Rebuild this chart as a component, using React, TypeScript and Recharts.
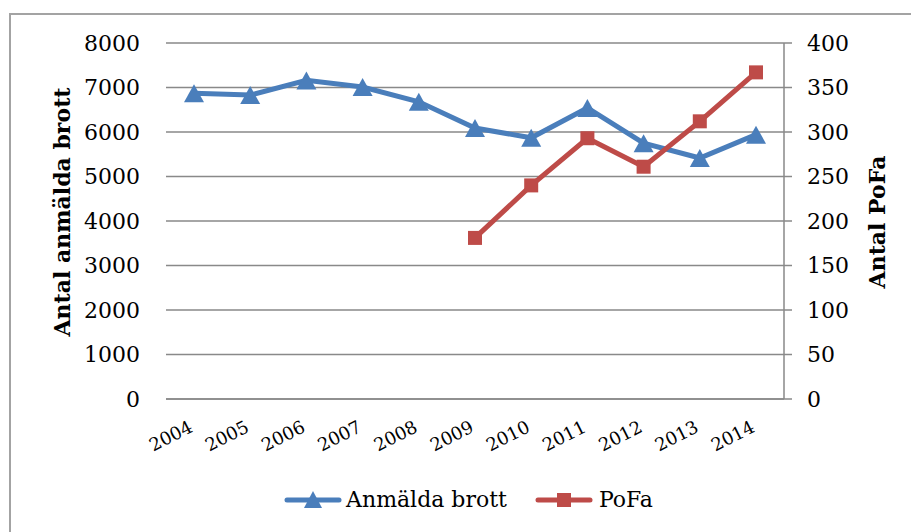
import React from 'react';
import { LineChart, Line, XAxis, YAxis, CartesianGrid, Legend } from 'recharts';

const years = ['2004', '2005', '2006', '2007', '2008', '2009', '2010', '2011', '2012', '2013', '2014'];
const anmaldaBrott = [6870, 6830, 7160, 7010, 6680, 6090, 5870, 6540, 5750, 5415, 5940];
const pofaValues: (number | null)[] = [null, null, null, null, null, 181, 240, 293, 261, 312, 367];
const leftTicks = [0, 1000, 2000, 3000, 4000, 5000, 6000, 7000, 8000];
const rightTicks = [0, 50, 100, 150, 200, 250, 300, 350, 400];

const data = years.map((y, i) => ({ year: y, anmalda: anmaldaBrott[i], pofa: pofaValues[i] }));

const FONT = "'DejaVu Serif', serif";
const BLUE = '#4A7EBB';
const RED = '#BE4B48';
const GRID = '#898989';

const TriangleDot = (props: any) => {
  const { cx, cy, index } = props;
  if (cx == null || cy == null || isNaN(cy)) return <g key={`t${index}`} />;
  const w = 20, h = 18;
  return (
    <polygon
      key={`t${index}`}
      points={`${cx},${cy - h / 2} ${cx + w / 2},${cy + h / 2} ${cx - w / 2},${cy + h / 2}`}
      fill={BLUE}
    />
  );
};

const SquareDot = (props: any) => {
  const { cx, cy, index } = props;
  if (cx == null || cy == null || isNaN(cy)) return <g key={`s${index}`} />;
  const s = 14;
  return <rect key={`s${index}`} x={cx - s / 2} y={cy - s / 2} width={s} height={s} fill={RED} />;
};

const XTick = (props: any) => {
  const { x, y, payload } = props;
  const ax = x;
  const ay = y + 32;
  return (
    <text
      x={ax}
      y={ay}
      transform={`rotate(-27, ${ax}, ${ay})`}
      textAnchor="end"
      fontFamily={FONT}
      fontSize={18}
      fill="#000"
    >
      {payload.value}
    </text>
  );
};

const LeftTitle = (props: any) => {
  const vb = props.viewBox || {};
  const x = 62;
  const y = (vb.y ?? 43) + (vb.height ?? 356) / 2 - 9;
  return (
    <text
      x={x}
      y={y}
      transform={`rotate(-90, ${x}, ${y})`}
      textAnchor="middle"
      dominantBaseline="central"
      fontFamily={FONT}
      fontWeight="bold"
      fontSize={22}
      fill="#000"
    >
      Antal anmälda brott
    </text>
  );
};

const RightTitle = (props: any) => {
  const vb = props.viewBox || {};
  const x = 877;
  const y = (vb.y ?? 43) + (vb.height ?? 356) / 2 + 1;
  return (
    <text
      x={x}
      y={y}
      transform={`rotate(-90, ${x}, ${y})`}
      textAnchor="middle"
      dominantBaseline="central"
      fontFamily={FONT}
      fontWeight="bold"
      fontSize={22}
      fill="#000"
    >
      Antal PoFa
    </text>
  );
};

const LegendContent = () => (
  <div
    style={{
      display: 'flex',
      justifyContent: 'center',
      alignItems: 'center',
      fontFamily: FONT,
      fontSize: 22,
      color: '#000',
      paddingLeft: 26,
    }}
  >
    <svg width={58} height={22} style={{ display: 'block' }}>
      <line x1={3} y1={11} x2={55} y2={11} stroke={BLUE} strokeWidth={5} strokeLinecap="round" />
      <polygon points="29,2 38,19 20,19" fill={BLUE} />
    </svg>
    <span style={{ marginLeft: 4 }}>Anmälda brott</span>
    <svg width={58} height={22} style={{ display: 'block', marginLeft: 28 }}>
      <line x1={3} y1={11} x2={55} y2={11} stroke={RED} strokeWidth={5} strokeLinecap="round" />
      <rect x={22} y={4} width={14} height={14} fill={RED} />
    </svg>
    <span style={{ marginLeft: 6 }}>PoFa</span>
  </div>
);

export default function App() {
  return (
    <div style={{ position: 'absolute', left: 0, top: 0, width: 911, height: 532, overflow: 'hidden', background: '#fff' }}>
      <div
        style={{
          position: 'absolute',
          left: 9,
          top: 13,
          width: 940,
          height: 560,
          border: '2px solid #a3a3a3',
          boxSizing: 'border-box',
        }}
      />
      <div style={{ position: 'absolute', left: 0, top: 0 }}>
        <LineChart width={911} height={532} data={data} margin={{ top: 43, right: 27, left: 0, bottom: 73 }}>
          <CartesianGrid yAxisId="left" vertical={false} stroke={GRID} strokeWidth={1.5} />
          <XAxis
            dataKey="year"
            height={60}
            padding={{ left: 28, right: 28 }}
            axisLine={{ stroke: GRID, strokeWidth: 1.5 }}
            tickLine={false}
            tickSize={0}
            tickMargin={0}
            interval={0}
            tick={<XTick />}
          />
          <YAxis
            yAxisId="left"
            orientation="left"
            width={166}
            domain={[0, 8000]}
            ticks={leftTicks}
            axisLine={false}
            tickLine={false}
            tickSize={8}
            tickMargin={18}
            tick={{ fontFamily: FONT, fontSize: 22, fill: '#000' }}
            label={<LeftTitle />}
          />
          <YAxis
            yAxisId="right"
            orientation="right"
            width={100}
            domain={[0, 400]}
            ticks={rightTicks}
            axisLine={{ stroke: GRID, strokeWidth: 1.5 }}
            tickLine={{ stroke: GRID, strokeWidth: 1.5 }}
            tickSize={8}
            tickMargin={15}
            tick={{ fontFamily: FONT, fontSize: 22, fill: '#000' }}
            label={<RightTitle />}
          />
          <Legend
            layout="horizontal"
            verticalAlign="middle"
            align="center"
            content={<LegendContent />}
            wrapperStyle={{ position: 'absolute', top: 487, left: 0, width: 911 }}
          />
          <Line
            yAxisId="left"
            dataKey="anmalda"
            stroke={BLUE}
            strokeWidth={5}
            dot={<TriangleDot />}
            activeDot={false}
            isAnimationActive={false}
            name="Anmälda brott"
          />
          <Line
            yAxisId="right"
            dataKey="pofa"
            stroke={RED}
            strokeWidth={5}
            dot={<SquareDot />}
            activeDot={false}
            isAnimationActive={false}
            connectNulls={false}
            name="PoFa"
          />
        </LineChart>
      </div>
    </div>
  );
}
